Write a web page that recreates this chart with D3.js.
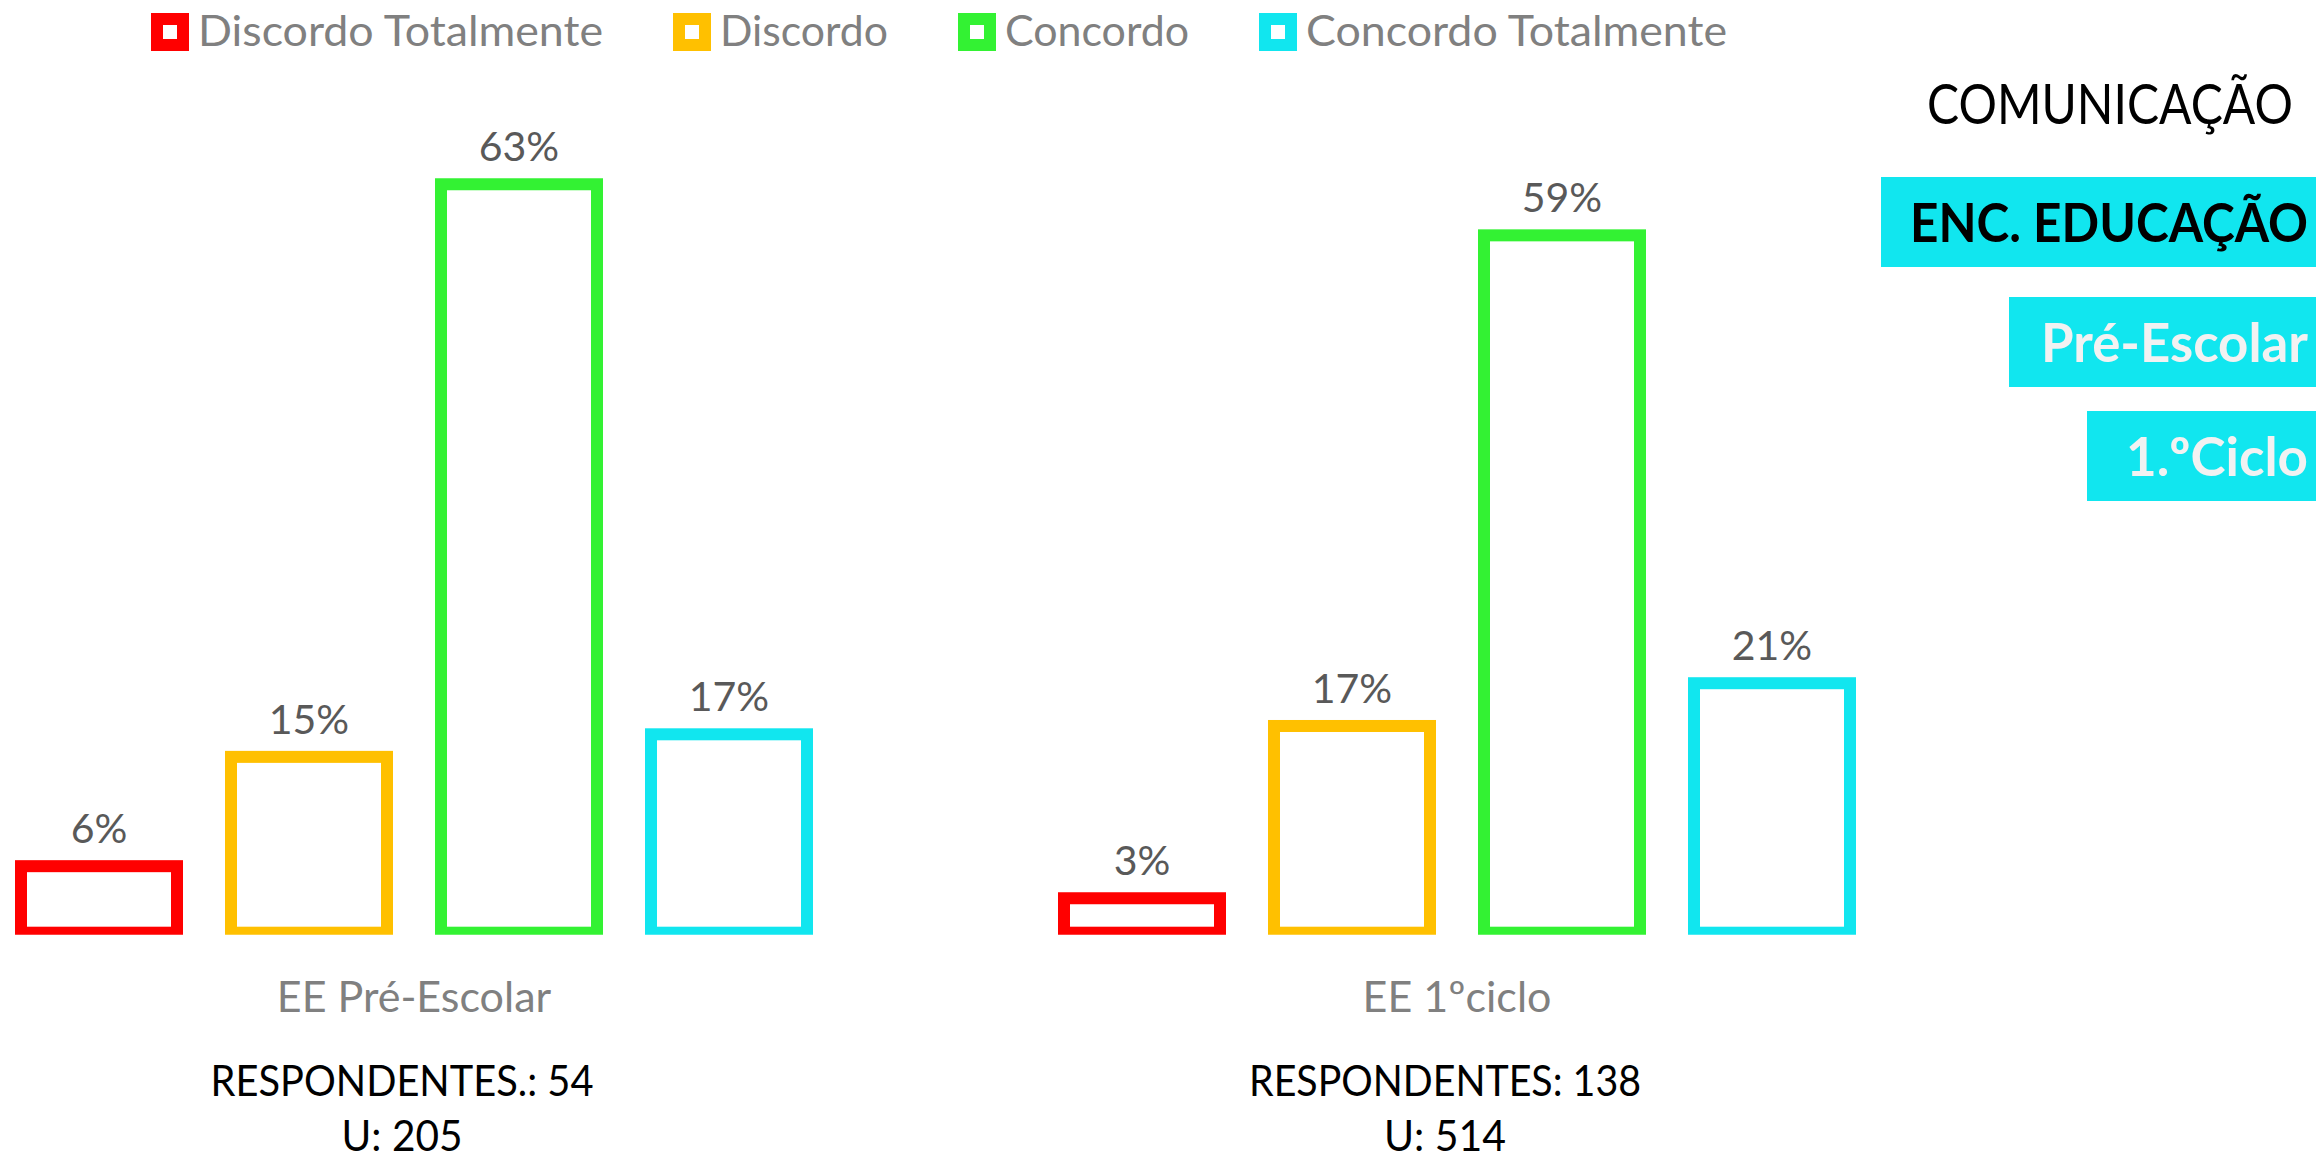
<!DOCTYPE html>
<html>
<head>
<meta charset="utf-8">
<script src="https://cdn.jsdelivr.net/npm/d3@7"></script>
<style>
  html, body { margin: 0; padding: 0; background: #ffffff; }
  svg { display: block; }
  text { font-family: Lato, "Noto Sans", sans-serif; }
</style>
</head>
<body>
<svg id="chart" width="2316" height="1158"></svg>
<script>
// ---------- data ----------
const groups = ["EE Pré-Escolar", "EE 1ºciclo"];
const series = ["Discordo Totalmente", "Discordo", "Concordo", "Concordo Totalmente"];
const seriesColors = ["#FF0000", "#FFC000", "#33F233", "#11E6EF"];
const valuesPreEscolar = [5.6, 14.8, 63.0, 16.7];
const values1Ciclo = [2.9, 17.4, 58.7, 21.0];
const respondentesLabels = ["RESPONDENTES.: 54", "RESPONDENTES: 138"];
const uLabels = ["U: 205", "U: 514"];
const titleText = "COMUNICAÇÃO";
const tagLabels = ["ENC. EDUCAÇÃO", "Pré-Escolar", "1.ºCiclo"];

const groupValues = [valuesPreEscolar, values1Ciclo];

// ---------- layout ----------
const W = 2316, H = 1158;
const svg = d3.select("#chart");
const baseY = 932.7;
const clipBottom = 934.7;
const strokeW = 12;

const xGroup = d3.scalePoint().domain(groups).range([414, 1457]);
const xSeries = d3.scaleBand().domain(series).range([-420, 420]).paddingInner(0.2).paddingOuter(0.1);
const y = d3.scaleLinear().domain([0, 70]).range([baseY, baseY - 70 * 11.88]);
const color = d3.scaleOrdinal().domain(series).range(seriesColors);

svg.append("defs").append("clipPath").attr("id", "plotClip")
  .attr("clipPathUnits", "userSpaceOnUse")
  .append("rect").attr("x", -3000).attr("y", 0).attr("width", 6000).attr("height", clipBottom);

const plot = svg.append("g");
const respWidths = [383, 392];
const uWidths = [121, 122];

groups.forEach((g, gi) => {
  const gx = xGroup(g);
  const data = series.map((s, si) => ({ s, v: groupValues[gi][si] }));
  const gg = plot.append("g").attr("transform", `translate(${gx},0)`);
  gg.append("g").attr("clip-path", "url(#plotClip)")
    .selectAll("rect").data(data).join("rect")
    .attr("x", d => xSeries(d.s) + strokeW / 2)
    .attr("width", xSeries.bandwidth() - strokeW)
    .attr("y", d => y(d.v))
    .attr("height", d => y(0) - y(d.v))
    .attr("fill", "none")
    .attr("stroke", d => color(d.s))
    .attr("stroke-width", strokeW);

  gg.selectAll("text.val").data(data).join("text")
    .attr("class", "val")
    .attr("x", d => xSeries(d.s) + xSeries.bandwidth() / 2)
    .attr("y", d => y(d.v) - strokeW / 2 - 17)
    .attr("text-anchor", "middle")
    .attr("font-size", 41)
    .attr("fill", "#595959")
    .text(d => Math.round(d.v) + "%");

  gg.append("text")
    .attr("x", 0).attr("y", 1011.7)
    .attr("text-anchor", "middle")
    .attr("font-size", 43)
    .attr("fill", "#808080")
    .text(g);

  gg.append("text")
    .attr("x", -12).attr("y", 1096)
    .attr("text-anchor", "middle")
    .attr("font-size", 42)
    .attr("fill", "#000000")
    .attr("textLength", respWidths[gi]).attr("lengthAdjust", "spacingAndGlyphs")
    .text(respondentesLabels[gi]);

  gg.append("text")
    .attr("x", -12).attr("y", 1151)
    .attr("text-anchor", "middle")
    .attr("font-size", 42)
    .attr("fill", "#000000")
    .attr("textLength", uWidths[gi]).attr("lengthAdjust", "spacingAndGlyphs")
    .text(uLabels[gi]);
});

// ---------- legend ----------
const legendTextWidths = [405, 168, 184, 421];
const legend = svg.append("g");
let lx = 151;
series.forEach((s, i) => {
  const item = legend.append("g").attr("transform", `translate(${lx},0)`);
  item.append("rect").attr("x", 0).attr("y", 13).attr("width", 38).attr("height", 38)
    .attr("fill", color(s));
  item.append("rect").attr("x", 12).attr("y", 25).attr("width", 14).attr("height", 14)
    .attr("fill", "#ffffff");
  item.append("text").attr("x", 47).attr("y", 45.7)
    .attr("font-size", 42).attr("fill", "#808080")
    .attr("textLength", legendTextWidths[i]).attr("lengthAdjust", "spacingAndGlyphs")
    .text(s);
  lx += 47 + legendTextWidths[i] + 70;
});

// ---------- right-side titles ----------
svg.append("text")
  .attr("x", 2293).attr("y", 124)
  .attr("text-anchor", "end")
  .attr("font-size", 57)
  .attr("fill", "#000000")
  .attr("textLength", 366).attr("lengthAdjust", "spacingAndGlyphs")
  .text(titleText);

const tagBoxes = [
  { x0: 1881, y0: 177, y1: 267, base: 241.7, fill: "#000000", w: 398 },
  { x0: 2009, y0: 297, y1: 387, base: 361.7, fill: "#F2F2F2", w: 267 },
  { x0: 2087, y0: 411, y1: 501, base: 475.7, fill: "#F2F2F2", w: 182 }
];
tagLabels.forEach((lbl, i) => {
  const b = tagBoxes[i];
  svg.append("rect").attr("x", b.x0).attr("y", b.y0).attr("width", W - b.x0).attr("height", b.y1 - b.y0)
    .attr("fill", "#11E6EF");
  svg.append("text")
    .attr("x", 2308).attr("y", b.base)
    .attr("text-anchor", "end")
    .attr("font-size", 53)
    .attr("font-weight", "bold")
    .attr("fill", b.fill)
    .attr("textLength", b.w).attr("lengthAdjust", "spacingAndGlyphs")
    .text(lbl);
});
</script>
</body>
</html>
